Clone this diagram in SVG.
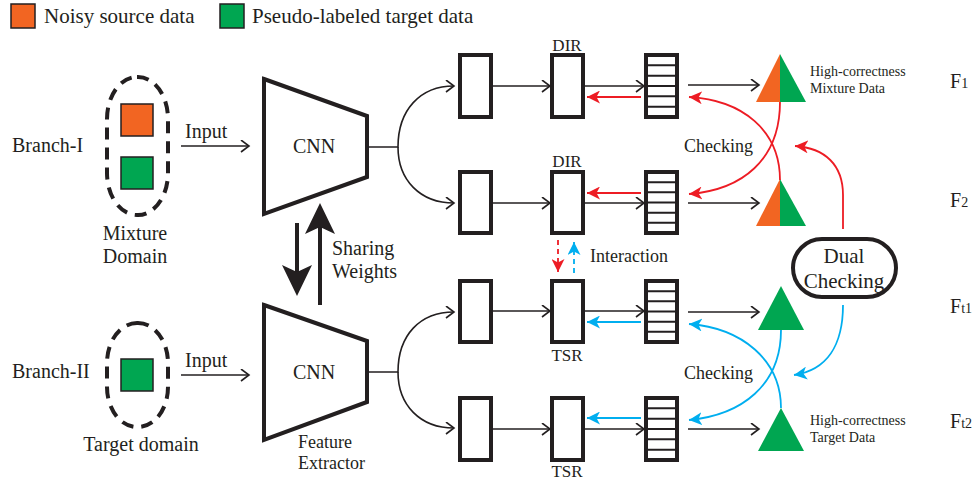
<svg xmlns="http://www.w3.org/2000/svg" width="975" height="485" viewBox="0 0 975 485" font-family="'Liberation Serif', serif">
<defs>
<style>
text{font-family:'Liberation Serif',serif;fill:#231f20}
.t20{font-size:20px}
.t18{font-size:18px}
.t17{font-size:17px}
.t14{font-size:14px}
.box{fill:#fff;stroke:#231f20;stroke-width:4}
.stripe{stroke:#231f20;stroke-width:2}
.dash{fill:none;stroke:#231f20;stroke-width:4;stroke-dasharray:12 8}
.ln{fill:none;stroke:#231f20;stroke-width:1.6}
.red{fill:none;stroke:#ed1c24;stroke-width:1.8}
.blue{fill:none;stroke:#00aeef;stroke-width:1.8}
.orange{fill:#f26522}
.green{fill:#00a651}
</style>
<marker id="chev" markerUnits="userSpaceOnUse" markerWidth="12" markerHeight="14" refX="9" refY="6.5" orient="auto" viewBox="0 0 12 14">
<path d="M1,0.5 L9,6.5 L1,12.5" fill="none" stroke="#231f20" stroke-width="1.6"/>
</marker>
<marker id="ahR" markerUnits="userSpaceOnUse" markerWidth="15" markerHeight="13" refX="13" refY="6.5" orient="auto" viewBox="0 0 15 13">
<path d="M0,0 L13,6.5 L0,13 L3.5,6.5 z" fill="#ed1c24"/>
</marker>
<marker id="ahB" markerUnits="userSpaceOnUse" markerWidth="15" markerHeight="13" refX="13" refY="6.5" orient="auto" viewBox="0 0 15 13">
<path d="M0,0 L13,6.5 L0,13 L3.5,6.5 z" fill="#00aeef"/>
</marker>
</defs>
<rect width="975" height="485" fill="#fff"/>

<g id="legend">
<rect x="11" y="4" width="24" height="24" class="orange" stroke="#231f20" stroke-width="1.5"/>
<text x="44" y="23" font-family="'Liberation Serif', serif" font-size="21">Noisy source data</text>
<rect x="220" y="4" width="24" height="24" class="green" stroke="#231f20" stroke-width="1.5"/>
<text x="252" y="23" font-family="'Liberation Serif', serif" font-size="21">Pseudo-labeled target data</text>
</g>

<g id="branch1">
<text x="12" y="152" class="t20">Branch-I</text>
<rect x="107" y="77" width="61" height="138" rx="30" ry="42" class="dash"/>
<rect x="121" y="104" width="32" height="32" class="orange" stroke="#231f20" stroke-width="1.5"/>
<rect x="121" y="157" width="32" height="32" class="green" stroke="#231f20" stroke-width="1.5"/>
<text x="135" y="240" class="t20" text-anchor="middle">Mixture</text>
<text x="135" y="263" class="t20" text-anchor="middle">Domain</text>
</g>

<g id="branch2">
<text x="12" y="378" class="t20">Branch-II</text>
<rect x="107" y="323" width="61" height="104" rx="30" ry="40" class="dash"/>
<rect x="121" y="359" width="32" height="32" class="green" stroke="#231f20" stroke-width="1.5"/>
<text x="141" y="451" class="t20" text-anchor="middle">Target domain</text>
</g>

<g id="cnn1">
<polygon points="264,79 367,116 367,177 264,214" fill="#fff" stroke="#231f20" stroke-width="4"/>
<text x="314" y="153" class="t20" text-anchor="middle">CNN</text>
</g>
<g id="cnn2">
<polygon points="264,305 367,341 367,402 264,440" fill="#fff" stroke="#231f20" stroke-width="4"/>
<text x="314" y="379" class="t20" text-anchor="middle">CNN</text>
<text x="298" y="448" class="t18">Feature</text>
<text x="298" y="469" class="t18">Extractor</text>
</g>

<g id="sharing">
<line x1="297" y1="223" x2="297" y2="276" stroke="#231f20" stroke-width="4"/>
<polygon points="297,296 282,265 297,272 312,265" fill="#231f20"/>
<line x1="320" y1="305" x2="320" y2="225" stroke="#231f20" stroke-width="4"/>
<polygon points="320,203 305,234 320,227 335,234" fill="#231f20"/>
<text x="332" y="255" class="t20">Sharing</text>
<text x="332" y="278" class="t20">Weights</text>
</g>

<g id="row1">
<rect x="460" y="55" width="31" height="62" class="box"/>
<rect x="552" y="55" width="31" height="62" class="box"/>
<text x="567" y="51" class="t17" text-anchor="middle">DIR</text>
<rect x="646" y="55" width="31" height="62" class="box"/>
<path d="M646,65.3H677M646,75.7H677M646,86H677M646,96.3H677M646,106.7H677" class="stripe"/>
</g>
<g id="row2">
<rect x="460" y="172" width="31" height="61" class="box"/>
<rect x="552" y="172" width="31" height="61" class="box"/>
<text x="567" y="167" class="t17" text-anchor="middle">DIR</text>
<rect x="646" y="172" width="31" height="61" class="box"/>
<path d="M646,182.2H677M646,192.3H677M646,202.5H677M646,212.7H677M646,222.8H677" class="stripe"/>
</g>
<g id="row3">
<rect x="460" y="281" width="31" height="61" class="box"/>
<rect x="552" y="281" width="31" height="61" class="box"/>
<text x="567" y="361" class="t17" text-anchor="middle">TSR</text>
<rect x="646" y="281" width="31" height="61" class="box"/>
<path d="M646,291.2H677M646,301.3H677M646,311.5H677M646,321.7H677M646,331.8H677" class="stripe"/>
</g>
<g id="row4">
<rect x="460" y="398" width="31" height="62" class="box"/>
<rect x="552" y="398" width="31" height="62" class="box"/>
<text x="567" y="477" class="t17" text-anchor="middle">TSR</text>
<rect x="646" y="398" width="31" height="62" class="box"/>
<path d="M646,408.3H677M646,418.7H677M646,429H677M646,439.3H677M646,449.7H677" class="stripe"/>
</g>

<g id="tri1">
<polygon points="780,54 756,102 780,102" class="orange"/>
<polygon points="780,54 806,102 780,102" class="green"/>
<text x="810" y="76" class="t14">High-correctness</text>
<text x="810" y="93" class="t14">Mixture Data</text>
</g>
<g id="tri2">
<polygon points="780,179 756,226 780,226" class="orange"/>
<polygon points="780,179 806,226 780,226" class="green"/>
</g>
<g id="tri3">
<polygon points="781,286 758,330 804,330" class="green"/>
</g>
<g id="tri4">
<polygon points="781,408 758,451 804,451" class="green"/>
<text x="810" y="425" class="t14">High-correctness</text>
<text x="810" y="442" class="t14">Target Data</text>
</g>

<g id="dual">
<rect x="793" y="239" width="103" height="58" rx="29" fill="#fff" stroke="#231f20" stroke-width="4"/>
<text x="844" y="263" font-family="'Liberation Serif', serif" font-size="21" text-anchor="middle">Dual</text>
<text x="844" y="288" font-family="'Liberation Serif', serif" font-size="21" text-anchor="middle">Checking</text>
</g>

<g id="labels">
<text x="684" y="152" class="t18">Checking</text>
<text x="684" y="379" class="t18">Checking</text>
<text x="590" y="262" class="t18">Interaction</text>
<text x="950" y="88" class="t20">F<tspan font-size="14">1</tspan></text>
<text x="950" y="207" class="t20">F<tspan font-size="14">2</tspan></text>
<text x="950" y="313" class="t20">F<tspan font-size="14">t1</tspan></text>
<text x="950" y="428" class="t20">F<tspan font-size="14">t2</tspan></text>
</g>

<g id="connectors">
<line x1="181" y1="146" x2="249" y2="146" class="ln" marker-end="url(#chev)"/>
<text x="185" y="138" class="t20">Input</text>
<line x1="181" y1="375" x2="249" y2="375" class="ln" marker-end="url(#chev)"/>
<text x="185" y="367" class="t20">Input</text>

<path d="M367,147H398C398,110 420,86 454,86" class="ln" marker-end="url(#chev)"/>
<path d="M398,147C398,180 420,203 454,203" class="ln" marker-end="url(#chev)"/>
<path d="M367,372H398C398,335 420,312 454,312" class="ln" marker-end="url(#chev)"/>
<path d="M398,372C398,405 420,428 454,428" class="ln" marker-end="url(#chev)"/>

<line x1="491" y1="86" x2="550" y2="86" class="ln" marker-end="url(#chev)"/>
<line x1="583" y1="86" x2="644" y2="86" class="ln" marker-end="url(#chev)"/>
<line x1="491" y1="203" x2="550" y2="203" class="ln" marker-end="url(#chev)"/>
<line x1="583" y1="203" x2="644" y2="203" class="ln" marker-end="url(#chev)"/>
<line x1="491" y1="311" x2="550" y2="311" class="ln" marker-end="url(#chev)"/>
<line x1="583" y1="311" x2="644" y2="311" class="ln" marker-end="url(#chev)"/>
<line x1="491" y1="429" x2="550" y2="429" class="ln" marker-end="url(#chev)"/>
<line x1="583" y1="429" x2="644" y2="429" class="ln" marker-end="url(#chev)"/>

<line x1="688" y1="85" x2="759" y2="85" class="ln" marker-end="url(#chev)"/>
<line x1="688" y1="203" x2="759" y2="203" class="ln" marker-end="url(#chev)"/>
<line x1="688" y1="312" x2="759" y2="312" class="ln" marker-end="url(#chev)"/>
<line x1="688" y1="429" x2="759" y2="429" class="ln" marker-end="url(#chev)"/>

<line x1="641" y1="97" x2="587" y2="97" class="red" marker-end="url(#ahR)"/>
<line x1="641" y1="193" x2="587" y2="193" class="red" marker-end="url(#ahR)"/>
<line x1="641" y1="322" x2="587" y2="322" class="blue" marker-end="url(#ahB)"/>
<line x1="641" y1="418" x2="587" y2="418" class="blue" marker-end="url(#ahB)"/>

<line x1="558" y1="240" x2="558" y2="272" class="red" stroke-dasharray="5 4" marker-end="url(#ahR)"/>
<line x1="574" y1="273" x2="574" y2="242" class="blue" stroke-dasharray="5 4" marker-end="url(#ahB)"/>

<path d="M780,180C780,130 742,100 689,97" class="red" marker-end="url(#ahR)"/>
<path d="M780,102C780,160 742,190 689,194" class="red" marker-end="url(#ahR)"/>
<path d="M843,229V195C843,165 825,148 795,146" class="red" marker-end="url(#ahR)"/>

<path d="M781,408C781,360 742,328 689,324" class="blue" marker-end="url(#ahB)"/>
<path d="M781,330C781,385 742,415 689,420" class="blue" marker-end="url(#ahB)"/>
<path d="M843,305C843,345 827,370 794,375" class="blue" marker-end="url(#ahB)"/>
</g>
</svg>
